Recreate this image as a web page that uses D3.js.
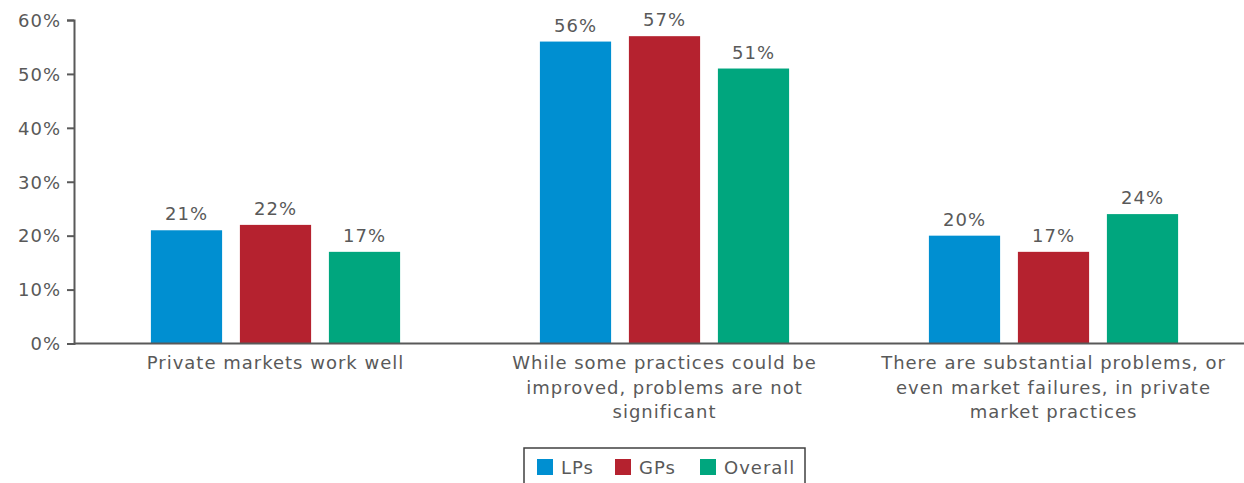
<!DOCTYPE html>
<html lang="en">
<head>
    <meta charset="utf-8" />
    <title>Private markets survey</title>
    <style type="text/css">
        body { margin: 0; background: #fff; }
        svg text { font-family: "DejaVu Sans", sans-serif; fill: #595959; letter-spacing: 1px; }
    </style>
    <script type="text/javascript" src="https://cdn.jsdelivr.net/npm/d3@7"></script>
</head>
<body>
    <div id="chart"></div>
    <script type="text/javascript">
        const categories = [
            ['Private markets work well'],
            ['While some practices could be', 'improved, problems are not', 'significant'],
            ['There are substantial problems, or', 'even market failures, in private', 'market practices']
        ];
        const seriesNames = ['LPs', 'GPs', 'Overall'];
        const lps = [21, 56, 20];
        const gps = [22, 57, 17];
        const overall = [17, 51, 24];
        const yTicks = [0, 10, 20, 30, 40, 50, 60];
        const colors = ['#008fd1', '#b5222f', '#00a67e'];

        const width = 1244, height = 483;
        const values = [lps, gps, overall];

        const svg = d3.select('#chart').append('svg')
            .attr('width', width)
            .attr('height', height);

        const x = d3.scaleBand().domain([0, 1, 2]).range([81, 1248]);
        const xs = d3.scaleBand().domain([0, 1, 2]).range([-133.5, 133.5])
            .paddingInner(0.2).paddingOuter(0.1);
        const y = d3.scaleLinear().domain([0, 60]).range([343.5, 20]);

        // bars
        const groups = svg.selectAll('.grp')
            .data([0, 1, 2])
            .enter().append('g')
            .attr('transform', (d) => 'translate(' + (x(d) + x.bandwidth() / 2) + ',0)');

        groups.selectAll('rect')
            .data((d) => values.map((s, i) => ({ s: i, v: s[d] })))
            .enter().append('rect')
            .attr('x', (d) => xs(d.s))
            .attr('width', xs.bandwidth())
            .attr('y', (d) => y(d.v))
            .attr('height', (d) => y(0) - y(d.v))
            .style('fill', (d) => colors[d.s]);

        groups.selectAll('.lbl')
            .data((d) => values.map((s, i) => ({ s: i, v: s[d] })))
            .enter().append('text')
            .attr('class', 'lbl')
            .attr('x', (d) => xs(d.s) + xs.bandwidth() / 2)
            .attr('y', (d) => y(d.v) - 10)
            .attr('text-anchor', 'middle')
            .style('font-size', '18px')
            .text((d) => d.v + '%');

        // y axis
        const yAxis = svg.append('g')
            .attr('transform', 'translate(74,0)')
            .call(d3.axisLeft(y).tickValues(yTicks).tickSize(7).tickFormat((d) => d + '%'));
        yAxis.select('.domain').attr('stroke', '#595959').attr('stroke-width', 2);
        yAxis.selectAll('.tick line').attr('stroke', '#595959').attr('stroke-width', 2);
        yAxis.selectAll('.tick text')
            .attr('x', -13)
            .attr('dy', '0.35em')
            .style('font-size', '18px')
            .style('font-family', '"DejaVu Sans", sans-serif')
            .attr('fill', '#595959');

        // x axis baseline
        svg.append('line')
            .attr('x1', 74).attr('x2', width)
            .attr('y1', y(0)).attr('y2', y(0))
            .attr('stroke', '#595959').attr('stroke-width', 2);

        // category labels
        const catText = svg.selectAll('.cat')
            .data(categories)
            .enter().append('text')
            .attr('class', 'cat')
            .attr('text-anchor', 'middle')
            .style('font-size', '18px')
            .attr('transform', (d, i) => 'translate(' + (x(i) + x.bandwidth() / 2) + ',' + 369 + ')');
        catText.selectAll('tspan')
            .data((d) => d)
            .enter().append('tspan')
            .attr('x', 0)
            .attr('y', (d, i) => i * 24.5)
            .text((d) => d);

        // legend
        const legend = svg.append('g').attr('transform', 'translate(524,448)');
        legend.append('rect')
            .attr('x', 0).attr('y', 0)
            .attr('width', 281).attr('height', 40)
            .attr('fill', 'none')
            .attr('stroke', '#404040')
            .attr('stroke-width', 1.5);
        const legendX = [13, 91, 176];
        const items = legend.selectAll('.lg')
            .data(seriesNames)
            .enter().append('g')
            .attr('transform', (d, i) => 'translate(' + legendX[i] + ',0)');
        items.append('rect')
            .attr('x', 0).attr('y', 11)
            .attr('width', 16).attr('height', 16)
            .style('fill', (d, i) => colors[i]);
        items.append('text')
            .attr('x', 24).attr('y', 26)
            .style('font-size', '18px')
            .text((d) => d);
    </script>
</body>
</html>
